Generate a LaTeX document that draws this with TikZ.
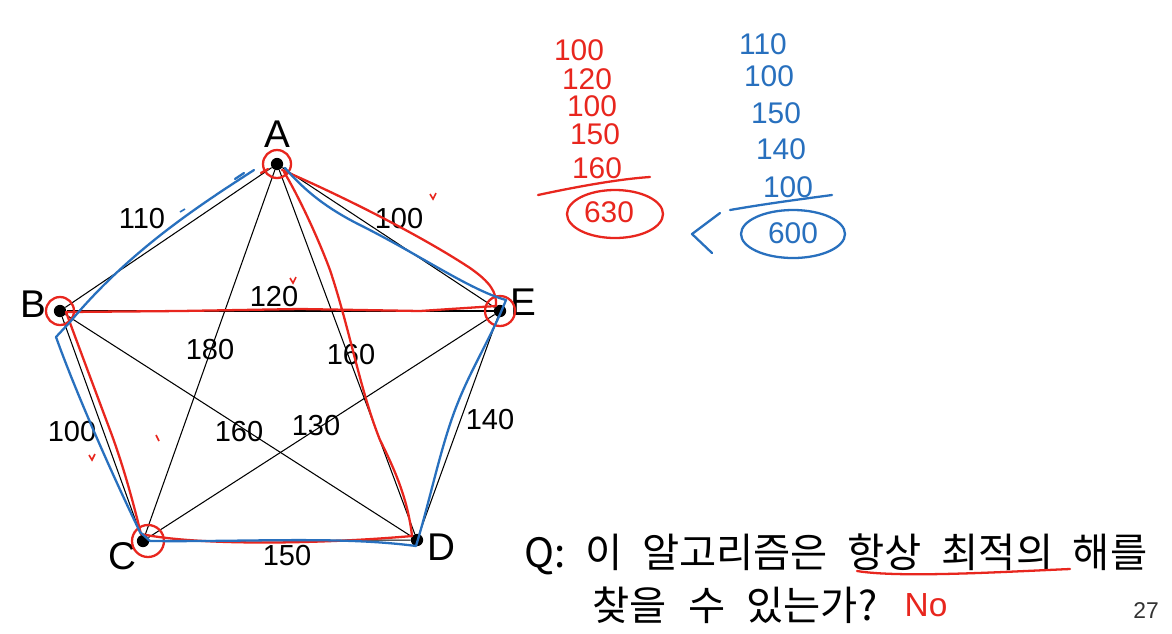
\documentclass[tikz,border=0pt]{standalone}
\usepackage{fontspec}
\setmainfont{Liberation Sans}
\newfontfamily\kr{Noto Sans CJK KR}
\usetikzlibrary{calc}
\definecolor{penred}{RGB}{232,38,30}
\definecolor{penblue}{RGB}{40,112,190}
\begin{document}
\begin{tikzpicture}[x=0.02cm,y=-0.02cm,
    vertex/.style={circle,fill=black,inner sep=0pt,minimum size=7pt},
    vname/.style={font=\fontsize{22}{26}\selectfont},
    weight/.style={font=\fontsize{16.5}{19}\selectfont},
    edge/.style={line width=0.6pt},
    redpen/.style={penred,line width=1.3pt,line cap=round,line join=round},
    bluepen/.style={penblue,line width=1.3pt,line cap=round,line join=round},
    rednum/.style={penred,inner sep=1pt,font=\fontsize{17}{19}\selectfont},
    bluenum/.style={penblue,inner sep=1pt,font=\fontsize{17}{19}\selectfont},
    question/.style={anchor=west,inner sep=0pt,font=\kr\fontsize{23}{27}\selectfont}]
  \useasboundingbox[fill=white] (0,0) rectangle (1172,633);

  % cities
  \node[vertex] (A) at (277,164) {};
  \node[vertex] (B) at (60,311) {};
  \node[vertex] (C) at (143,541) {};
  \node[vertex] (D) at (417,540) {};
  \node[vertex] (E) at (500,311) {};
  \node[vname] (nA) at (277,134) {A};
  \node[vname] (nB) at (33,304) {B};
  \node[vname] (nC) at (122,556) {C};
  \node[vname] (nD) at (441,547) {D};
  \node[vname] (nE) at (523,302) {E};

  % all roads
  \draw[edge] (A) -- (B);
  \draw[edge] (A) -- (C);
  \draw[edge] (A) -- (D);
  \draw[edge] (A) -- (E);
  \draw[edge] (B) -- (C);
  \draw[edge] (B) -- (D);
  \draw[edge] (B) -- (E);
  \draw[edge] (C) -- (D);
  \draw[edge] (C) -- (E);
  \draw[edge] (D) -- (E);

  \node[weight] (wAB) at (142,219) {110};
  \node[weight] (wAE) at (399,219) {100};
  \node[weight] (wBE) at (274,297) {120};
  \node[weight] (wAC) at (210,350) {180};
  \node[weight] (wAD) at (351,355) {160};
  \node[weight] (wBC) at (72,432) {100};
  \node[weight] (wBD) at (239,432) {160};
  \node[weight] (wCE) at (316,426) {130};
  \node[weight] (wDE) at (490,420) {140};
  \node[weight] (wCD) at (287,556) {150};

  % red tour A-E-B-C-D-A
  \draw[redpen] (282,170) .. controls (340,195) and (420,235) .. (470,268)
    .. controls (490,282) and (497,292) .. (496,306)
    -- (420,311) -- (300,309) -- (180,311) -- (66,312)
    .. controls (80,350) and (95,390) .. (110,430)
    .. controls (125,470) and (135,510) .. (141,534)
    .. controls (200,546) and (320,544) .. (412,536)
    .. controls (408,500) and (395,470) .. (380,440)
    .. controls (360,390) and (350,330) .. (330,270)
    .. controls (315,230) and (295,190) .. (284,172);
  \draw[redpen] (261,173) -- (268,169);
  \draw[redpen] (A) circle[radius=14];
  \draw[redpen] (B) circle[radius=14];
  \draw[redpen] ($(C)+(5,0)$) circle[radius=16];
  \draw[redpen] (E) circle[radius=15];

  % blue tour A-B-C-D-E-A
  \draw[bluepen] (254,170) .. controls (200,205) and (130,250) .. (70,322)
    -- (56,337)
    .. controls (75,390) and (110,470) .. (140,532)
    -- (150,541)
    .. controls (250,542) and (340,536) .. (416,546)
    .. controls (430,500) and (440,450) .. (455,410)
    .. controls (470,370) and (490,340) .. (506,300)
    .. controls (470,290) and (420,255) .. (360,225)
    .. controls (320,205) and (300,185) .. (285,168);
  \draw[bluepen] (235,179) -- (244,173);

  % check marks
  \draw[penred,line width=0.9pt] (430,194) -- (433,199) -- (436,193);
  \draw[penred,line width=0.9pt] (290,278) -- (293,283) -- (296,277);
  \draw[penred,line width=0.9pt] (89,455) -- (92,460) -- (95,454);
  \draw[penred,line width=0.9pt] (156,435) -- (159,441);
  \draw[penblue,line width=0.9pt] (180,212) -- (185,209);

  % red sum
  \node[rednum] (r1) at (579,50) {100};
  \node[rednum] (r2) at (587,79) {120};
  \node[rednum] (r3) at (592,106) {100};
  \node[rednum] (r4) at (595,134) {150};
  \node[rednum] (r5) at (597,168) {160};
  \draw[redpen] (538,195) .. controls (580,186) and (620,179) .. (650,177);
  \node[rednum] (rsum) at (609,212) {630};
  \draw[redpen] (615,214) ellipse[x radius=48,y radius=24];

  % blue sum
  \node[bluenum] (b1) at (763,44) {110};
  \node[bluenum] (b2) at (769,76) {100};
  \node[bluenum] (b3) at (776,113) {150};
  \node[bluenum] (b4) at (781,149) {140};
  \node[bluenum] (b5) at (788,187) {100};
  \draw[bluepen] (730,210) .. controls (770,203) and (810,198) .. (832,195);
  \node[bluenum] (bsum) at (793,233) {600};
  \draw[bluepen] (793,234) ellipse[x radius=52,y radius=24];
  \draw[bluepen] (720,213) -- (692,234) -- (712,253);

  % question
  \node[question] (q1) at (524,554) {\hbox to 12.46cm{Q:\hfill 이\hfill 알고리즘은\hfill 항상\hfill 최적의\hfill 해를}};
  \node[question] (q2) at (592,605) {\hbox to 5.7cm{찾을\hfill 수\hfill 있는가?}};
  \draw[redpen] (857,571) .. controls (900,578) and (1000,572) .. (1070,569);
  \node[penred,font=\fontsize{19}{21}\selectfont] (ans) at (926,605) {No};
  \node[font=\fontsize{13}{15}\selectfont,text=black!80] (page) at (1146,611) {27};
\end{tikzpicture}
\end{document}
